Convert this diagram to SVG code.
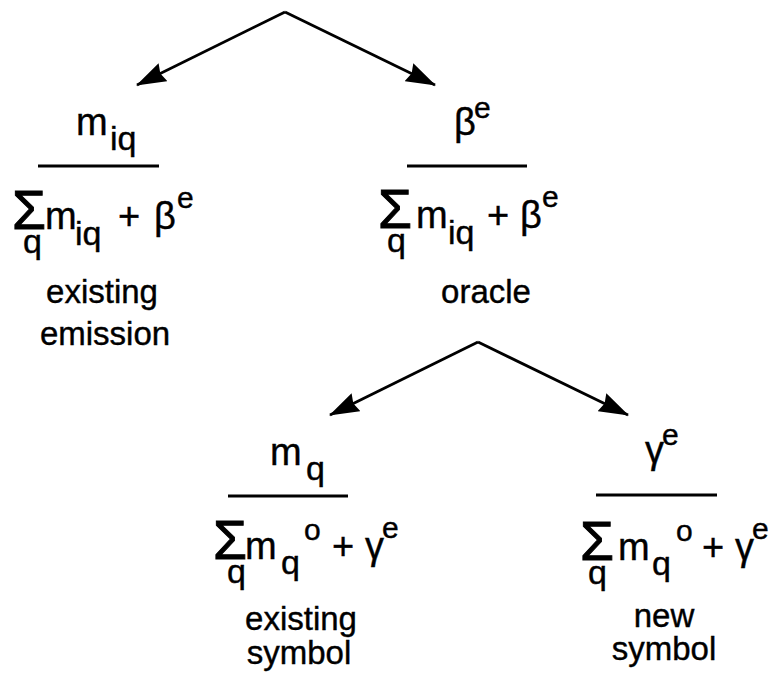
<svg xmlns="http://www.w3.org/2000/svg" width="769" height="680" viewBox="0 0 769 680">
<style>
text{font-family:"Liberation Sans",Arial,Helvetica,sans-serif;fill:#000;stroke:#000;stroke-width:0.4}
.sig{font-size:55px;stroke-width:1}
.mn{font-size:38px}
.sb{font-size:34px}
.sp{font-size:30px}
.lb{font-size:33px;text-anchor:middle}
.bar{stroke:#000;stroke-width:3}
.conn{stroke:#000;stroke-width:2.8;fill:none;marker-end:url(#ah)}
</style>
<defs>
<marker id="ah" markerUnits="userSpaceOnUse" viewBox="0 0 30 20" refX="29" refY="10" markerWidth="30" markerHeight="20" orient="auto">
<path d="M0,0 L30,10 L0,20 L3,10 z" fill="#000"/>
</marker>
</defs>
<g id="connectors">
<path class="conn" d="M285,12 L137,85"/>
<path class="conn" d="M285,12 L435,85"/>
<path class="conn" d="M478,342 L330,415"/>
<path class="conn" d="M478,342 L628,415"/>
</g>
<g id="existing-emission">
<text class="mn" x="76" y="135">m</text><text class="sb" x="110" y="150">iq</text>
<line class="bar" x1="38" y1="166" x2="159" y2="166"/>
<text class="sig" x="12" y="229">Σ</text>
<text class="mn" x="45" y="229">m</text><text class="sb" x="75" y="245">iq</text>
<text class="sb" x="23" y="253">q</text>
<text class="mn" x="118" y="229">+</text>
<text class="mn" x="154" y="229">β</text><text class="sp" x="177" y="208">e</text>
<text class="lb" x="102" y="303">existing</text>
<text class="lb" x="105" y="345">emission</text>
</g>
<g id="oracle">
<text class="mn" x="454" y="135">β</text><text class="sp" x="474" y="118">e</text>
<line class="bar" x1="407" y1="166" x2="527" y2="166"/>
<text class="sig" x="378" y="228">Σ</text>
<text class="mn" x="416" y="228">m</text><text class="sb" x="448" y="244">iq</text>
<text class="sb" x="387" y="252">q</text>
<text class="mn" x="487" y="228">+</text>
<text class="mn" x="520" y="228">β</text><text class="sp" x="542" y="207">e</text>
<text class="lb" x="486" y="303">oracle</text>
</g>
<g id="existing-symbol">
<text class="mn" x="270" y="465">m</text><text class="sb" x="306" y="480">q</text>
<line class="bar" x1="228" y1="496" x2="348" y2="496"/>
<text class="sig" x="213" y="559">Σ</text>
<text class="mn" x="245" y="559">m</text><text class="sb" x="281" y="574">q</text>
<text class="sp" x="304" y="540">o</text>
<text class="sb" x="227" y="583">q</text>
<text class="mn" x="332" y="559">+</text>
<text class="mn" x="365" y="559">γ</text><text class="sp" x="382" y="538">e</text>
<text class="lb" x="301" y="630">existing</text>
<text class="lb" x="299" y="664">symbol</text>
</g>
<g id="new-symbol">
<text class="mn" x="645" y="463">γ</text><text class="sp" x="662" y="445">e</text>
<line class="bar" x1="596" y1="495" x2="717" y2="495"/>
<text class="sig" x="580" y="560">Σ</text>
<text class="mn" x="618" y="560">m</text><text class="sb" x="652" y="575">q</text>
<text class="sp" x="676" y="541">o</text>
<text class="sb" x="588" y="584">q</text>
<text class="mn" x="702" y="560">+</text>
<text class="mn" x="735" y="560">γ</text><text class="sp" x="752" y="539">e</text>
<text class="lb" x="664" y="627">new</text>
<text class="lb" x="664" y="660">symbol</text>
</g>
</svg>
